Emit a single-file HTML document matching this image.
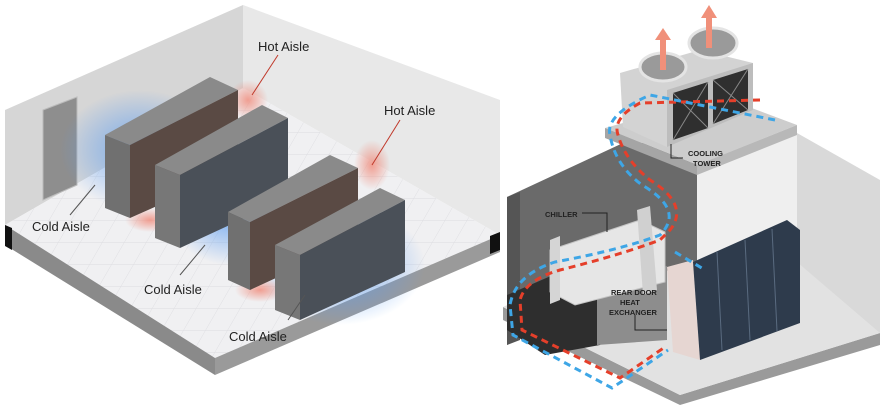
<!DOCTYPE html>
<html><head><meta charset="utf-8"><style>
html,body{margin:0;padding:0;background:#fff;}
svg{display:block}
text{font-family:"Liberation Sans",sans-serif}
</style></head><body>
<svg width="881" height="408" viewBox="0 0 881 408" xmlns="http://www.w3.org/2000/svg">
<defs>
<radialGradient id="blue" cx="50%" cy="50%" r="50%"><stop offset="0" stop-color="#5b9cf0" stop-opacity="0.8"/><stop offset="1" stop-color="#5b9cf0" stop-opacity="0"/></radialGradient>
<radialGradient id="red" cx="50%" cy="50%" r="50%"><stop offset="0" stop-color="#f08a7a" stop-opacity="0.8"/><stop offset="1" stop-color="#f08a7a" stop-opacity="0"/></radialGradient>
<pattern id="tiles" width="22" height="22" patternUnits="userSpaceOnUse" patternTransform="skewX(-30)"><rect width="22" height="22" fill="#f0f0f2"/><path d="M0 0H22M0 0V22" stroke="#dedee2" stroke-width="1"/></pattern>
</defs>
<rect width="881" height="408" fill="#fff"/>
<!-- LEFT PANEL -->
<polygon points="5,110 243,5 243,88 5,225" fill="#d6d6d6"/>
<polygon points="243,5 500,100 500,235 243,88" fill="#e8e8e8"/>
<polygon points="5,225 243,88 500,235 215,358" fill="url(#tiles)"/>
<polygon points="5,225 215,358 215,375 5,245" fill="#8a8a8a"/>
<polygon points="215,358 500,235 500,252 215,375" fill="#9a9a9a"/>
<polygon points="5,225 12,228 12,250 5,246" fill="#111"/>
<polygon points="490,236 500,232 500,250 490,254" fill="#111"/>
<polygon points="43,110 77,97 77,185 43,200" fill="#8e8e8e" stroke="#bbb"/>
<ellipse cx="140" cy="150" rx="80" ry="60" fill="url(#blue)"/>
<ellipse cx="230" cy="215" rx="60" ry="50" fill="url(#blue)"/>
<ellipse cx="340" cy="265" rx="85" ry="60" fill="url(#blue)"/>
<ellipse cx="248" cy="100" rx="20" ry="20" fill="url(#red)"/>
<ellipse cx="372" cy="165" rx="18" ry="25" fill="url(#red)"/>
<ellipse cx="150" cy="220" rx="25" ry="12" fill="url(#red)"/>
<ellipse cx="260" cy="290" rx="25" ry="12" fill="url(#red)"/>
<g>
<polygon points="105,135 210,77 238,90 130,145" fill="#8a8a8a"/>
<polygon points="105,135 130,145 130,218 105,208" fill="#707070"/>
<polygon points="130,145 238,90 238,170 130,218" fill="#5a4a44"/>
</g>
<g>
<polygon points="155,165 262,105 288,118 180,175" fill="#8a8a8a"/>
<polygon points="155,165 180,175 180,248 155,238" fill="#777"/>
<polygon points="180,175 288,118 288,198 180,248" fill="#4a5058"/>
</g>
<g>
<polygon points="228,212 330,155 358,168 250,222" fill="#8a8a8a"/>
<polygon points="228,212 250,222 250,290 228,280" fill="#707070"/>
<polygon points="250,222 358,168 358,240 250,290" fill="#5a4a44"/>
</g>
<g>
<polygon points="275,245 380,188 405,200 300,255" fill="#8a8a8a"/>
<polygon points="275,245 300,255 300,320 275,310" fill="#777"/>
<polygon points="300,255 405,200 405,272 300,320" fill="#4a5058"/>
</g>
<g stroke="#c0392b" stroke-width="1"><line x1="278" y1="55" x2="252" y2="95"/><line x1="400" y1="120" x2="372" y2="165"/></g>
<g stroke="#555" stroke-width="1"><line x1="70" y1="215" x2="95" y2="185"/><line x1="180" y1="275" x2="205" y2="245"/><line x1="288" y1="320" x2="305" y2="295"/></g>
<g font-size="13" fill="#222">
<text x="258" y="51">Hot Aisle</text>
<text x="384" y="115">Hot Aisle</text>
<text x="32" y="231">Cold Aisle</text>
<text x="144" y="294">Cold Aisle</text>
<text x="229" y="341">Cold Aisle</text>
</g>
<!-- RIGHT PANEL -->
<!-- outer right wall -->
<polygon points="797,133 880,180 880,333 797,300" fill="#d9d9d9"/>
<!-- floor slab -->
<polygon points="503,307 680,395 880,333 880,345 680,405 503,320" fill="#9a9a9a"/>
<polygon points="503,307 600,262 700,250 797,262 880,333 680,395" fill="#e2e2e2"/>
<!-- dark back wall -->
<polygon points="507,197 623,143 697,143 697,262 600,290 507,345" fill="#6a6a6a"/>
<polygon points="507,197 520,192 520,340 507,345" fill="#555"/>
<!-- light block front face -->
<polygon points="697,150 797,133 797,253 697,262" fill="#efefef"/>
<!-- black floor -->
<polygon points="507,295 560,272 630,300 600,345 545,355 507,330" fill="#2e2e2e"/>
<!-- gray panel (middle wall) -->
<polygon points="597,283 667,266 667,340 597,345" fill="#8d8d8d"/>
<!-- roof slab -->
<polygon points="605,128 720,96 797,125 697,165" fill="#cdcdcd"/>
<polygon points="605,128 697,165 697,175 605,138" fill="#a5a5a5"/>
<polygon points="697,165 797,125 797,135 697,175" fill="#b8b8b8"/>
<!-- tower -->
<polygon points="620,73 700,50 753,63 753,110 667,147 623,127" fill="#d3d3d3"/>
<polygon points="667,90 753,63 753,110 667,147" fill="#bdbdbd"/>
<polygon points="673,93 708,82 708,128 673,140" fill="#2f2f2f"/>
<polygon points="713,80 748,69 748,110 713,124" fill="#2f2f2f"/>
<g stroke="#888" stroke-width="1"><line x1="673" y1="93" x2="708" y2="128"/><line x1="708" y1="82" x2="673" y2="140"/><line x1="713" y1="80" x2="748" y2="110"/><line x1="748" y1="69" x2="713" y2="124"/></g>
<ellipse cx="663" cy="67" rx="23" ry="14" fill="#9a9a9a" stroke="#e4e4e4" stroke-width="3"/>
<ellipse cx="713" cy="43" rx="24" ry="15" fill="#9a9a9a" stroke="#e4e4e4" stroke-width="3"/>
<g fill="#f0907a"><rect x="660" y="40" width="6" height="30"/><polygon points="655,40 663,28 671,40"/><rect x="706" y="18" width="6" height="30"/><polygon points="701,18 709,5 717,18"/></g>
<!-- chiller -->
<polygon points="550,250 640,220 665,232 665,282 575,305 550,292" fill="#e6e6e6" stroke="#c4c4c4"/>
<polygon points="550,240 560,236 560,300 550,304" fill="#d5d5d5"/>
<polygon points="637,210 650,206 657,290 643,295" fill="#d0d0d0"/>
<!-- heat exchanger + racks -->
<polygon points="667,267 693,260 700,360 673,352" fill="#e6d6d2"/>
<polygon points="693,262 787,220 800,230 800,323 700,360" fill="#2e3b4c"/>
<g stroke="#5a6b80" stroke-width="1"><line x1="717" y1="252" x2="722" y2="350"/><line x1="745" y1="240" x2="750" y2="340"/><line x1="772" y1="229" x2="777" y2="331"/></g>
<!-- pipes -->
<g fill="none" stroke-width="3" stroke-dasharray="7,5">
<path d="M760,100 L640,103 Q612,118 618,135 Q625,160 650,180 Q690,205 670,230 L660,240 Q620,255 560,270 Q525,280 520,300 L522,330 L620,378 L665,347" stroke="#e53f2a"/>
<path d="M775,120 L650,95 Q605,115 610,135 Q615,165 642,185 Q685,210 660,235 Q620,250 555,262 Q515,275 510,305 L513,335 L612,388 L668,350 M675,252 L705,270" stroke="#3ea6e6"/>
</g>
<!-- labels -->
<g stroke="#222" stroke-width="1" fill="none"><path d="M671,144 L671,158 L683,158"/><path d="M582,213 L607,213 L607,232"/><path d="M635,315 L635,330 L667,330"/></g>
<g font-size="7.5" font-weight="bold" fill="#222">
<text x="688" y="156">COOLING</text><text x="693" y="166">TOWER</text>
<text x="545" y="217">CHILLER</text>
<text x="611" y="295">REAR DOOR</text><text x="620" y="305">HEAT</text><text x="609" y="315">EXCHANGER</text>
</g>
</svg>
</body></html>
